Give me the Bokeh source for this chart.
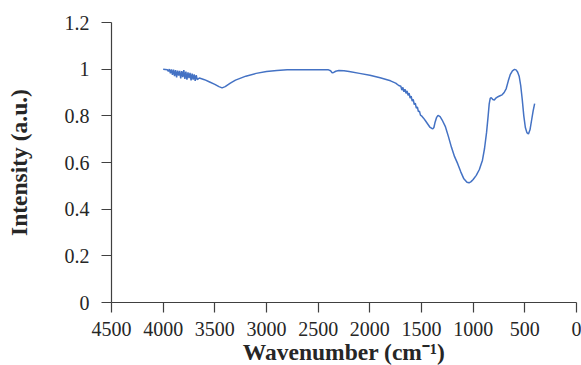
from bokeh.plotting import figure
from bokeh.models import Range1d, FixedTicker, CustomJSTickFormatter, ColumnDataSource, Label
from bokeh.embed import file_html
from bokeh.resources import INLINE

wavenumber = [4000, 3980, 3960, 3950, 3940, 3930, 3920, 3910, 3900, 3890, 3880, 3870, 3860, 3850,
              3840, 3830, 3820, 3810, 3800, 3790, 3780, 3770, 3760, 3750, 3740, 3730, 3720, 3710,
              3700, 3690, 3680, 3670, 3650, 3600, 3550, 3500, 3460, 3430, 3400, 3350, 3300, 3200,
              3100, 3000, 2900, 2800, 2700, 2600, 2500, 2400, 2380, 2365, 2350, 2330, 2300, 2250,
              2200, 2100, 2000, 1900, 1800, 1750, 1720, 1700, 1690, 1680, 1670, 1660, 1650, 1640,
              1630, 1620, 1610, 1600, 1590, 1580, 1570, 1560, 1550, 1540, 1530, 1520, 1510, 1500,
              1480, 1460, 1440, 1420, 1400, 1390, 1380, 1370, 1355, 1340, 1320, 1300, 1270, 1240,
              1210, 1180, 1150, 1120, 1090, 1060, 1040, 1020, 1000, 970, 940, 910, 890, 870, 855,
              845, 835, 825, 810, 795, 780, 760, 740, 720, 700, 680, 660, 640, 620, 600, 585, 570,
              555, 540, 525, 510, 495, 480, 465, 450, 435, 420, 405]
intensity = [1.000, 0.999, 0.998, 0.990, 1.000, 0.982, 0.999, 0.976, 0.998, 0.970, 0.996, 0.965, 0.994, 0.972,
             0.993, 0.960, 0.992, 0.966, 0.996, 0.958, 0.990, 0.955, 0.986, 0.962, 0.984, 0.952, 0.981, 0.955,
             0.978, 0.950, 0.974, 0.955, 0.962, 0.955, 0.945, 0.935, 0.925, 0.920, 0.925, 0.940, 0.953, 0.970,
             0.982, 0.990, 0.994, 0.997, 0.998, 0.998, 0.998, 0.997, 0.993, 0.985, 0.986, 0.991, 0.994, 0.993,
             0.990, 0.982, 0.974, 0.963, 0.950, 0.940, 0.930, 0.927, 0.910, 0.922, 0.903, 0.914, 0.896, 0.907,
             0.888, 0.897, 0.876, 0.884, 0.863, 0.870, 0.848, 0.854, 0.833, 0.838, 0.818, 0.820, 0.803, 0.800,
             0.790, 0.778, 0.765, 0.752, 0.746, 0.745, 0.750, 0.770, 0.792, 0.802, 0.797, 0.782, 0.755, 0.712,
             0.665, 0.625, 0.595, 0.560, 0.530, 0.515, 0.513, 0.518, 0.527, 0.545, 0.570, 0.610, 0.660, 0.730, 0.800,
             0.850, 0.875, 0.878, 0.870, 0.868, 0.876, 0.882, 0.886, 0.890, 0.900, 0.917, 0.950, 0.978, 0.993, 0.999, 0.997, 0.988,
             0.970, 0.930, 0.870, 0.800, 0.750, 0.728, 0.722, 0.740, 0.780, 0.820, 0.852]

x_ticks = [4500, 4000, 3500, 3000, 2500, 2000, 1500, 1000, 500, 0]
y_ticks = [0, 0.2, 0.4, 0.6, 0.8, 1.0, 1.2]
y_tick_labels = ["0", "0.2", "0.4", "0.6", "0.8", "1", "1.2"]

x_title = "Wavenumber (cm\u207b\u00b9)"
y_title = "Intensity (a.u.)"

p = figure(width=581, height=365, output_backend="svg", toolbar_location=None,
           x_range=Range1d(4500, 0), y_range=Range1d(0, 1.2),
           min_border_left=111, min_border_right=5, min_border_top=22, min_border_bottom=63)
p.outline_line_color = None
p.xgrid.visible = False
p.ygrid.visible = False

src = ColumnDataSource(dict(x=wavenumber, y=intensity))
p.line("x", "y", source=src, line_color="#4472C4", line_width=1.5)

p.xaxis.ticker = FixedTicker(ticks=x_ticks)
p.yaxis.ticker = FixedTicker(ticks=y_ticks)
p.yaxis.formatter = CustomJSTickFormatter(args=dict(t=y_ticks, l=y_tick_labels), code="""
let best = 0;
for (let i = 0; i < t.length; i++) { if (Math.abs(t[i] - tick) < Math.abs(t[best] - tick)) best = i; }
return l[best];
""")

for ax in (p.xaxis[0], p.yaxis[0]):
    ax.axis_line_color = "#404040"
    ax.axis_line_width = 1.2
    ax.major_tick_line_color = "#404040"
    ax.major_tick_line_width = 1.2
    ax.major_tick_out = 10
    ax.major_tick_in = 0
    ax.minor_tick_line_color = None
    ax.major_label_text_font = "Liberation Serif"
    ax.major_label_text_font_size = "20px"
    ax.major_label_text_color = "#262626"
    ax.axis_label_text_font = "Liberation Serif"
    ax.axis_label_text_font_size = "23.5px"
    ax.axis_label_text_font_style = "bold"
    ax.axis_label_text_color = "#262626"

p.yaxis.axis_label = y_title
p.xaxis.major_label_standoff = 9
p.yaxis.major_label_standoff = 12
p.yaxis.axis_label_standoff = 30

xlab = Label(x=(x_ticks[0] + x_ticks[-1]) / 2, y=-0.213, x_units="data", y_units="data",
             text=x_title, text_align="center", text_baseline="alphabetic",
             text_font="Liberation Serif", text_font_size="23.5px", text_font_style="bold",
             text_color="#262626")
p.add_layout(xlab, "below")

open("out.html", "w").write(file_html(p, INLINE))
